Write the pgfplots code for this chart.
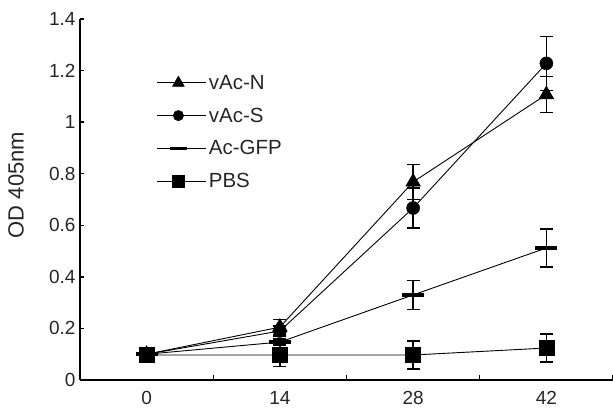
\documentclass[border=0pt]{standalone}
\usepackage{fontspec}
\setmainfont{Liberation Sans}
\usepackage{pgfplots}
\pgfplotsset{compat=1.18}
\begin{document}
\begin{tikzpicture}
\useasboundingbox (-80bp,-32bp) rectangle (533bp,380bp);
\begin{axis}[
  at={(0,0)}, anchor=south west,
  scale only axis, width=533bp, height=361bp,
  xmin=-0.5, xmax=3.5, ymin=0, ymax=1.4,
  axis lines*=left,
  axis line style={line width=1.4bp, black},
  xtick={0,1,2,3}, xticklabels={0,14,28,42},
  minor xtick={-0.5,0.5,1.5,2.5,3.5},
  major x tick style={draw=none},
  minor x tick style={line width=1.4bp, black},
  minor tick length=5bp,
  ytick={0,0.2,0.4,0.6,0.8,1,1.2,1.4},
  y tick style={line width=1.4bp, black},
  major tick length=4bp,
  tick align=inside,
  /pgf/number format/assume math mode=true,
  tick label style={font=\fontsize{19bp}{22bp}\selectfont, text=black!85},
  xticklabel style={yshift=-8bp},
  yticklabel style={xshift=-1bp},
  ylabel={OD 405nm},
  ylabel style={at={(axis description cs:-0.12,0.54)}, anchor=center, font=\fontsize{22bp}{25bp}\selectfont, text=black!85},
  legend style={draw=none, fill=none, at={(rel axis cs:0.144,0.8506)}, anchor=north west, inner sep=0pt, row sep=13bp, font=\fontsize{20.5bp}{24bp}\selectfont, text=black!85},
  legend cell align=left,
  legend image code/.code={\path (0bp,0bp) -- (49bp,0bp); \draw[mark repeat=2,mark phase=2] plot coordinates {(0bp,0bp) (21bp,0bp) (42bp,0bp)};},
  legend image post style={/tikz/every mark/.append style={scale=0.8}},
  every axis plot/.append style={black, line width=0.9bp},
  error bars/error bar style={line width=1.4bp, black, solid},
  error bars/error mark options={rotate=90, mark size=6.5bp, line width=1.4bp, black},
]
\addplot[mark=triangle*, mark size=8.5bp, mark options={fill=black, line width=0.5bp},
  error bars/.cd, y dir=both, y explicit]
  coordinates {(0,0.10) +- (0,0.015) (1,0.205) +- (0,0.03) (2,0.768) +- (0,0.068) (3,1.107) +- (0,0.07)};
\addlegendentry{vAc-N}
\addplot[mark=*, mark size=6.5bp, mark options={fill=black, line width=0.5bp},
  error bars/.cd, y dir=both, y explicit]
  coordinates {(0,0.10) +- (0,0.015) (1,0.19) +- (0,0.02) (2,0.667) +- (0,0.078) (3,1.228) +- (0,0.105)};
\addlegendentry{vAc-S}
\addplot[mark=-, mark size=11bp, mark options={line width=3.5bp},
  error bars/.cd, y dir=both, y explicit]
  coordinates {(0,0.10) +- (0,0.01) (1,0.147) +- (0,0.012) (2,0.33) +- (0,0.057) (3,0.512) +- (0,0.074)};
\addlegendentry{Ac-GFP}
\addplot[mark=square*, mark size=7.5bp, mark options={fill=black, line width=0.5bp},
  error bars/.cd, y dir=both, y explicit]
  coordinates {(0,0.097) +- (0,0.02) (1,0.097) +- (0,0.045) (2,0.097) +- (0,0.054) (3,0.124) +- (0,0.054)};
\addlegendentry{PBS}
\end{axis}
\end{tikzpicture}
\end{document}
